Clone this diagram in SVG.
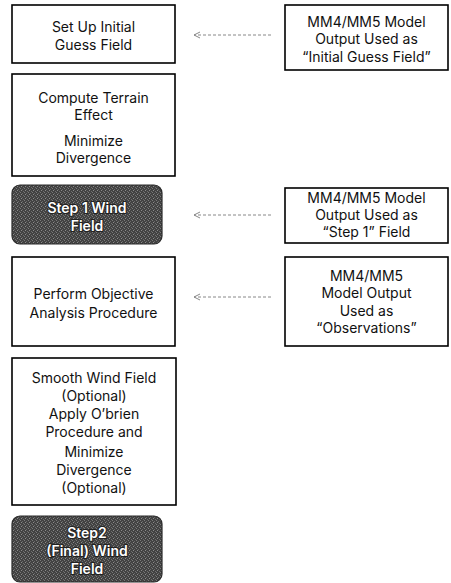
<svg xmlns="http://www.w3.org/2000/svg" width="451" height="583" viewBox="0 0 451 583">
<style>
.box{fill:#fff;stroke:#000;stroke-width:1.6}
.dark{fill:url(#tex);stroke:#2a2a2a;stroke-width:1.2}
text{font-family:Inter,"Noto Sans","DejaVu Sans",sans-serif;font-size:14px;fill:#111;text-anchor:middle;dominant-baseline:central}
.w{fill:#fff;stroke:#222;stroke-width:2;paint-order:stroke;font-weight:600}
.conn{stroke:#888;stroke-width:1;stroke-dasharray:3 2;fill:none}
</style>
<defs>
<pattern id="tex" width="4" height="4" patternUnits="userSpaceOnUse">
<rect width="4" height="4" fill="#424242"/>
<rect x="0" y="0" width="1" height="1" fill="#7a7a7a"/>
<rect x="2" y="1" width="1" height="1" fill="#6a6a6a"/>
<rect x="1" y="2" width="1" height="1" fill="#8a8a8a"/>
<rect x="3" y="3" width="1" height="1" fill="#6e6e6e"/>
</pattern>
<marker id="arr" markerWidth="8" markerHeight="8" refX="7" refY="4" orient="auto" markerUnits="userSpaceOnUse">
<path d="M1,1 L7,4 L1,7" fill="none" stroke="#888" stroke-width="1"/>
</marker>
</defs>
<g id="connectors">
<line class="conn" x1="271" y1="35" x2="194" y2="35" marker-end="url(#arr)"/>
<line class="conn" x1="271" y1="215" x2="194" y2="215" marker-end="url(#arr)"/>
<line class="conn" x1="271" y1="297" x2="194" y2="297" marker-end="url(#arr)"/>
</g>
<g id="n1"><rect class="box" x="12" y="5" width="163" height="58"/>
<text x="93.5" y="26">Set Up Initial</text><text x="93.5" y="44">Guess Field</text></g>
<g id="n2"><rect class="box" x="12" y="74" width="163" height="102"/>
<text x="93.5" y="97">Compute Terrain</text><text x="93.5" y="114">Effect</text>
<text x="93.5" y="140">Minimize</text><text x="93.5" y="157">Divergence</text></g>
<g id="n3"><rect class="dark" x="12" y="185" width="150" height="59" rx="8"/>
<text class="w" x="87" y="207">Step 1 Wind</text><text class="w" x="87" y="225">Field</text></g>
<g id="n4"><rect class="box" x="12" y="257" width="163" height="89"/>
<text x="93.5" y="293">Perform Objective</text><text x="93.5" y="312">Analysis Procedure</text></g>
<g id="n5"><rect class="box" x="12" y="358" width="164" height="147"/>
<text x="94" y="377">Smooth Wind Field</text><text x="94" y="395">(Optional)</text>
<text x="94" y="413">Apply O’brien</text><text x="94" y="431">Procedure and</text>
<text x="94" y="451">Minimize</text><text x="94" y="469">Divergence</text><text x="94" y="487">(Optional)</text></g>
<g id="n6"><rect class="dark" x="12" y="516" width="150" height="66" rx="8"/>
<text class="w" x="87" y="532">Step2</text><text class="w" x="87" y="550">(Final) Wind</text><text class="w" x="87" y="568">Field</text></g>
<g id="r1"><rect class="box" x="285" y="5" width="163" height="65"/>
<text x="366.5" y="21">MM4/MM5 Model</text><text x="366.5" y="38.5">Output Used as</text><text x="366.5" y="56">“Initial Guess Field”</text></g>
<g id="r2"><rect class="box" x="285" y="188" width="163" height="55"/>
<text x="366.5" y="197">MM4/MM5 Model</text><text x="366.5" y="214">Output Used as</text><text x="366.5" y="231">“Step 1” Field</text></g>
<g id="r3"><rect class="box" x="285" y="257" width="163" height="89"/>
<text x="366.5" y="275">MM4/MM5</text><text x="366.5" y="292.5">Model Output</text><text x="366.5" y="310">Used as</text><text x="366.5" y="327.5">“Observations”</text></g>
</svg>
